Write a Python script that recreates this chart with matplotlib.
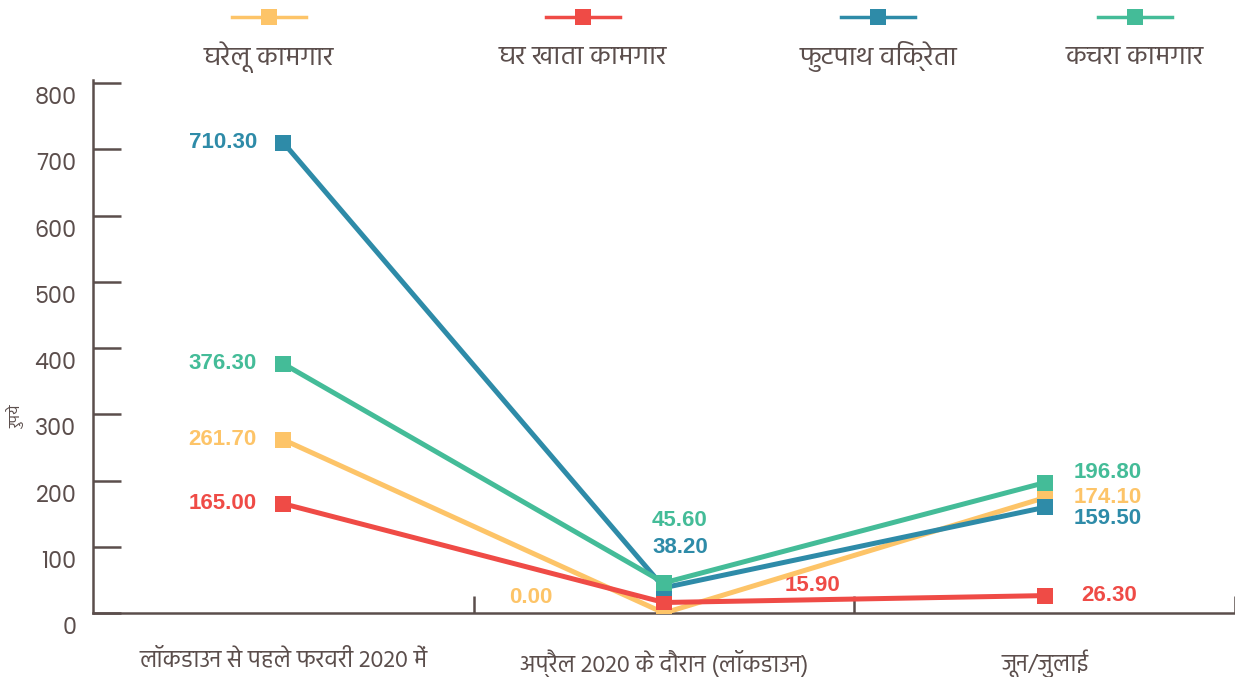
import numpy as np
import matplotlib
matplotlib.use("Agg")
import matplotlib.pyplot as plt
from matplotlib.lines import Line2D
from matplotlib.transforms import ScaledTranslation

# data
categories = ["लॉकडाउन से पहले फरवरी 2020 में", "अप्रैल 2020 के दौरान (लॉकडाउन)", "जून/जुलाई"]
series_names = ["घरेलू कामगार", "घर खाता कामगार", "फुटपाथ विक्रेता", "कचरा कामगार"]
domestic = [261.70, 0.00, 174.10]
home_based = [165.00, 15.90, 26.30]
street_vendor = [710.30, 38.20, 159.50]
waste_picker = [376.30, 45.60, 196.80]
y_ticks = [0, 100, 200, 300, 400, 500, 600, 700, 800]
y_label = "रुपये"

colors = ["#FDC468", "#EF4B46", "#2E8BA8", "#44BC98"]
text_col = "#5b4e4c"

hindi_family = ["Hind", "Noto Sans", "DejaVu Sans"]
num_family = ["Poppins", "Lato", "DejaVu Sans"]
label_family = ["Liberation Sans", "DejaVu Sans"]

fig = plt.figure(figsize=(12.35, 6.77), dpi=100)
ax = fig.add_axes([0.0753, 0.0945, 0.9247, 0.7875])

x = np.arange(len(categories))
values = [domestic, home_based, street_vendor, waste_picker]

# label offsets in points (dx, dy, ha) per series per category
offsets = [
    [(-19, 0, "right"), (-96, 11, "center"), (21, 0, "left")],
    [(-19, 0, "right"), (107, 12, "center"), (26, 0, "left")],
    [(-19, 0, "right"), (12, 29, "center"), (21, -8, "left")],
    [(-19, 0, "right"), (11, 45, "center"), (21, 7, "left")],
]

for i in [1, 3, 2, 0]:
    ax.plot(x, values[i], color=colors[i], lw=3.6, marker="s", ms=12,
            markeredgewidth=0, zorder=3 + i)
    for j, v in enumerate(values[i]):
        dx, dy, ha = offsets[i][j]
        ax.annotate(f"{v:.2f}", (x[j], v), xytext=(dx, dy), textcoords="offset points",
                    ha=ha, va="center", color=colors[i], fontsize=16,
                    fontweight="bold", family=label_family)

ax.set_xlim(-0.5, 2.5)
ax.set_ylim(0, 805)
ax.set_yticks(y_ticks)
ax.set_yticklabels([str(t) for t in y_ticks], family=num_family, fontsize=16, color=text_col)
ax.tick_params(axis="y", direction="in", length=20, width=1.8, color=text_col, pad=12)
# labels sit a little below their ticks
shift = ScaledTranslation(0, -9 / 72, fig.dpi_scale_trans)
for lab in ax.get_yticklabels():
    lab.set_transform(lab.get_transform() + shift)

ax.set_xticks(x)
ax.set_xticklabels(categories, family=hindi_family, fontsize=17, color=text_col)
ax.tick_params(axis="x", length=0, pad=26)
ax.set_xticks([0.5, 1.5, 2.5], minor=True)
ax.tick_params(axis="x", which="minor", direction="in", length=12, width=1.8, color=text_col)

for s in ["top", "right"]:
    ax.spines[s].set_visible(False)
for s in ["left", "bottom"]:
    ax.spines[s].set_color(text_col)
    ax.spines[s].set_linewidth(1.8)

fig.text(0.013, 0.385, y_label, rotation=90, family=hindi_family, fontsize=11,
         color=text_col, ha="center", va="center")

# legend: line + square marker with the name below
leg_x = [269, 583, 878, 1135]
W, H = 1235, 677
for i, name in enumerate(series_names):
    cx = leg_x[i] / W
    fig.add_artist(Line2D([cx - 37 / W, cx + 37 / W], [1 - 17 / H] * 2, color=colors[i], lw=2.5))
    fig.add_artist(Line2D([cx], [1 - 17 / H], color=colors[i], marker="s", ms=12, markeredgewidth=0))
    fig.text(cx, 1 - 57 / H, name, family=hindi_family, fontsize=19.5, color=text_col,
             ha="center", va="center")

fig.savefig("out.png", dpi=100)
